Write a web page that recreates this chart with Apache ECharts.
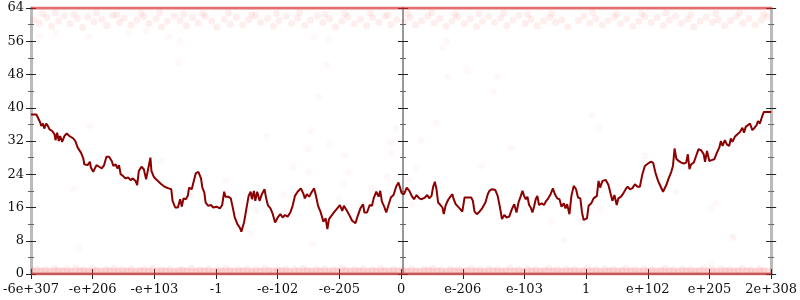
<!DOCTYPE html>
<html><head><meta charset="utf-8">
<script src="https://cdn.jsdelivr.net/npm/echarts@6/dist/echarts.min.js"></script>
<style>html,body{margin:0;padding:0;background:#fff}#c{width:800px;height:300px}</style>
</head><body><div id="c"></div>
<script>
// x positions are in sample units (0 .. 2238), 186.5 units per tick step
var xTickLabels = ['-6e+307','-e+206','-e+103','-1','-e-102','-e-205','0','e-206','e-103','1','e+102','e+205','2e+308'];
var yTicks = [0,8,16,24,32,40,48,56,64];

var lineX = [0,16,21,28,31,36,40,46,51,56,64,71,74,79,84,88,94,101,108,116,121,128,134,141,151,158,161,171,178,181,188,192,198,206,214,221,228,236,244,249,256,261,266,271,278,286,294,301,308,316,321,326,334,341,348,354,361,364,371,378,386,394,404,416,424,428,436,444,451,456,461,468,474,478,486,491,498,506,514,518,524,528,536,544,551,561,571,578,584,588,596,604,611,616,624,631,636,644,651,658,664,668,674,678,684,691,698,706,711,716,724,731,738,746,754,761,768,776,784,791,798,806,816,824,828,834,841,848,856,861,868,876,884,891,896,901,908,916,926,934,941,946,954,961,971,981,988,996,1004,1008,1016,1024,1031,1036,1044,1051,1056,1061,1068,1074,1081,1088,1096,1104,1111,1116,
1121,1128,1136,1144,1151,1158,1166,1174,1181,1191,1198,1204,1211,1216,1221,1226,1231,1238,1244,1248,1254,1261,1268,1274,1278,1284,1291,1298,1304,1311,1321,1331,1336,1341,1348,1356,1364,1374,1381,1386,1394,1404,1411,1418,1424,1431,1438,1446,1454,1461,1468,1474,1481,1486,1491,1496,1501,1506,1511,1516,1521,1526,1531,1536,1544,1551,1558,1564,1571,1578,1584,1591,1598,1604,1611,1616,1621,1628,1634,1641,1648,1654,1661,1666,1671,1681,1686,1694,1701,1711,1716,1721,1728,1738,1746,1754,1758,1764,1771,1776,1784,1791,1798,1804,1811,1818,1826,1834,1841,1848,1856,1866,1874,1881,1888,1896,1904,1911,1916,1921,1928,1936,1941,1946,1951,1958,1966,1974,1981,1986,1991,1996,2004,2011,2018,2026,2034,2038,2044,2051,2058,2066,2074,2081,2086,2091,2098,2104,2111,2116,2121,2128,2136,2144,2151,2156,2161,2166,2174,2181,2188,2194,2198,2204,2211,2216,2238];
var lineY = [38.4,38.4,37.6,36.4,35.6,36.2,35,36.2,35.6,34.8,34.4,33.6,32.2,34,32,33.2,31.8,33.2,33.8,33.2,33.5,32.6,32,30.4,29.2,27.8,26.4,26.2,27,25.6,24.6,24.2,26.2,25.8,25.4,26.2,28.2,28.2,27.2,26,26.4,25.4,26.2,24,23.6,23,23.2,22.6,23,22.4,21.4,24.8,25.8,25.2,22.8,25.2,28,24.8,23.4,22.8,22.2,21.6,21,20.6,20.4,17.6,16,16,18,16.2,18.2,18,18.8,20.8,20.4,22,24.2,24.6,23,20.8,19.6,17.2,16.4,16.6,16,16.2,15.8,16.6,19.8,18.6,18.6,18.2,15.6,13.6,12,11.2,10.2,12.4,15.6,18.8,19.8,18,20,17.6,19.8,17.6,19.2,20.4,18.2,16.6,15.8,14.4,12.4,13.6,14.4,13.6,14.2,13.8,14.8,16.4,18.8,19.8,20.6,19.2,18.2,19.2,18.6,19.6,20.6,19,16.4,14.8,12.6,13.4,10.8,13.2,14,14.8,15.8,16.6,15.2,16.4,15.4,14.4,12.8,12.2,14,15.8,16.8,14.8,14.8,16.6,16.4,18.2,19.8,18.6,20,17.4,16.2,14.8,16.6,18.4,19,21,22,21.6,
19.4,19.2,20.8,20,18.8,18,19,18.2,18,18.4,19,18.2,18.8,21,22.2,20.4,17.2,16.6,16,14.4,16.6,17.8,18.6,19.2,18,16.8,16.2,15.6,15,18.4,18.4,18.4,17.6,15,14.4,15,15.8,17.2,19.2,20,20.4,20.2,18.8,16,13.2,14.2,13.6,13.8,15.6,16.8,14.8,17.2,18.8,20,18.8,18,18.6,16.6,16,14.8,16.2,18,18.8,16.6,17,16.6,17.6,18.2,19.2,20.6,19.2,18.2,18,16.2,17,15.8,16.8,14.4,18.8,21.2,20.4,18.4,18.2,14.8,13,13.4,16.4,17,18.2,18.8,22.4,20.8,22.4,22.6,21.4,18.8,17.6,19,16.6,18.2,18.6,19.4,20.4,21,20.4,20.6,21.6,21,21,23.8,26,26.6,27,26.8,24.4,22.4,21,19.8,19.6,21.4,23,24.6,26,30.2,27.8,27.2,26.8,26.6,26.8,28.8,25.2,26.4,26.8,28.4,30,29.8,28.8,27,29.6,27.2,27.4,27.6,29.2,30.4,32,30.8,32.2,31.2,30.8,32.6,31.8,33,33.6,34.2,35.2,34,35.4,35.8,36.2,34.6,35.2,35.8,36.8,36.2,38,39,39];

var topDotX = [8,25,48,62,83,101,118,140,156,171,190,214,229,247,268,281,302,320,341,356,378,395,412,433,451,470,488,505,527,546,562,584,603,621,640,658,679,694,715,733,750,772,788,806,828,845,866,882,903,921,940,958,977,996,1015,1033,1052,1070,1088,1106,1128,1146,1163,1181,1200,1219,1236,1255,1273,1290,1310,1328,1347,1365,1384,1401,1420,1438,1457,1475,1494,1512,1531,1549,1568,1586,1605,1623,1655,1672,1690,1708,1727,1745,1764,1782,1801,1819,1838,1856,1875,1893,1912,1930,1949,1967,1986,2004,2023,2041,2060,2078,2097,2115,2134,2152,2171,2189,2208,2226,
 35,73,130,198,259,333,389,462,519,597,667,742,812,889,949,1025,1079,1139,1212,1282,1355,1430,1502,1575,1698,1772,1846,1920,1995,2070,2143,2215];
var topDotY = [61.2,60.4,61.8,59.6,60.9,62.1,60.2,61.5,59.3,61.9,60.7,61.3,59.8,62.2,60.5,61.6,59.9,61.1,62.0,60.3,61.4,59.5,60.8,62.1,61.0,59.7,61.7,60.4,62.0,60.9,59.4,61.3,60.1,61.8,59.9,61.2,62.2,60.6,61.5,59.6,61.0,62.0,60.3,61.6,59.8,61.1,62.1,60.5,61.4,59.4,60.9,61.9,60.2,61.3,59.7,61.7,60.6,62.0,60.0,61.2,60.7,61.8,59.9,61.0,62.1,60.4,61.5,59.6,60.9,61.9,60.2,61.4,59.5,60.8,62.0,60.5,61.6,59.8,61.1,62.2,60.3,61.3,59.7,60.9,61.8,60.6,61.2,59.4,61.0,62.1,60.4,61.5,59.9,61.0,61.9,60.2,61.4,59.6,60.8,62.0,60.5,61.7,59.8,61.1,62.1,60.3,61.3,59.5,60.9,61.8,60.6,61.2,59.7,61.0,62.0,60.4,61.5,59.9,61.1,61.9,
 62.6,62.9,62.5,62.8,62.4,62.7,62.9,62.5,62.6,62.8,62.4,62.7,62.9,62.5,62.6,62.8,62.3,62.7,62.9,62.5,62.6,62.8,62.4,62.7,62.9,62.5,62.6,62.8,62.4,62.7,62.9,62.5];

var bottomDotX = [5,18,30,44,57,70,82,96,109,121,135,148,160,173,187,199,212,226,238,251,264,277,290,303,316,329,342,355,368,381,394,407,420,433,446,459,472,485,498,511,524,537,550,563,576,589,602,615,628,641,654,667,680,693,706,719,732,745,758,771,784,797,810,823,836,849,862,875,888,901,914,927,940,953,966,979,992,1005,1018,1031,1044,1057,1070,1083,1096,1109,
 1124,1137,1150,1163,1176,1189,1202,1215,1228,1241,1254,1267,1280,1293,1306,1319,1332,1345,1358,1371,1384,1397,1410,1423,1436,1449,1462,1475,1488,1501,1514,1527,1540,1553,1566,1579,1592,1605,1618,1631,1644,1657,1670,1683,1696,1709,1722,1735,1748,1761,1774,1787,1800,1813,1826,1839,1852,1865,1878,1891,1904,1917,1930,1943,1956,1969,1982,1995,2008,2021,2034,2047,2060,2073,2086,2099,2112,2125,2138,2151,2164,2177,2190,2203,2216,2229];
var bottomDotY = [0.8,1.2,0.6,1.0,0.5,1.3,0.9,0.7,1.1,0.5,1.4,0.8,1.0,0.6,1.2,0.9,0.5,1.1,0.7,1.3,0.6,1.0,0.8,1.2,0.5,0.9,1.1,0.7,1.3,0.6,1.0,0.8,1.2,0.5,0.9,1.1,0.7,1.4,0.6,1.0,0.8,1.2,0.5,1.0,0.7,1.3,0.9,0.6,1.1,0.8,1.2,0.5,1.0,0.7,1.3,0.9,0.6,1.1,0.8,1.2,0.5,1.0,0.7,1.3,0.9,0.6,1.1,0.8,1.2,0.5,1.0,0.7,1.3,0.9,0.6,1.1,0.8,1.2,0.5,1.0,0.7,1.3,0.9,0.6,1.1,0.8,
 1.0,0.6,1.2,0.8,0.5,1.1,0.9,1.3,0.7,1.0,0.5,1.2,0.8,1.1,0.6,0.9,1.3,0.7,1.0,0.5,1.2,0.8,1.1,0.6,0.9,1.4,0.7,1.0,0.5,1.2,0.8,1.1,0.6,0.9,1.3,0.7,1.0,0.5,1.2,0.8,1.1,0.6,0.9,1.3,0.7,1.0,0.5,1.2,0.8,1.1,0.6,0.9,1.3,0.7,1.0,0.5,1.2,0.8,1.1,0.6,0.9,1.3,0.7,1.0,0.5,1.2,0.8,1.1,0.6,0.9,1.3,0.7,1.0,0.5,1.2,0.8,1.1,0.6,0.9,1.3,0.7,1.0,0.5,1.2,0.8];

var sparseX = [177,129,144,393,297,483,588,663,711,681,765,792,840,852,903,945,960,948,1032,1077,1086,1089,1104,930,1224,1179,1164,1143,1152,1362,1452,1695,1716,1857,1950,2055,2070,2124,1572,1611,1662,1722,855,900,894,870,1257,1245,1320,1260,1410,1398,447,75,27,174,294,348,417,450,2121,2058,837,846];
var sparseY = [35.6,20.4,6.2,27.2,23.8,18.8,22.4,9.8,33.2,15.2,19.1,25.8,24.6,7.2,31.2,21.6,24.4,28.6,20.6,23.4,31.6,29.2,35,18,36.4,32.2,25.4,22.6,16.7,26,30.4,38.2,35.2,28.4,19.8,15.8,17,9,12.6,8.2,12.6,15.6,57,56.5,50.3,42.6,56,54.4,49,47.4,47.4,44,50.8,58,57.3,57,58,58.5,57,56,8.7,2.4,30,34.6];

var bandEnds = [0, 2238];
var bottomBandLevel = [0.8, 0.8];

function pairs(xs, ys){ var o=[]; for(var i=0;i<xs.length;i++) o.push([xs[i], ys[i]]); return o; }

var STEP = 186.5, XMAX = 2238;
var font = "'DejaVu Serif', 'Liberation Serif', serif";
function xAx(show, inside){
  return {type:'value', min:0, max:XMAX, interval:STEP, position:'bottom',
    axisLine:{show:show, lineStyle:{color:'#aaa', width:2}},
    axisTick:{show:true, inside:inside, length:5, lineStyle:{color:'#222', width:1}},
    axisLabel:{show:show, margin:9, color:'#111', fontFamily:font, fontSize:13,
      formatter:function(v){ var i=Math.round(v/STEP); return xTickLabels[i]||''; }},
    splitLine:{show:false}};
}
function yAx(pos, offset, inside, showLine, showLabel, lineColor, lineWidth){
  return {type:'value', min:yTicks[0], max:yTicks[yTicks.length-1], interval:8, position:pos, offset:offset,
    axisLine:{show:showLine, onZero:false, lineStyle:{color:lineColor, width:lineWidth}},
    axisTick:{show:true, inside:inside, length:5, lineStyle:{color:'#222', width:1}},
    minorTick:{show:true, splitNumber:2, length:3, lineStyle:{color:'#666', width:1}},
    axisLabel:{show:showLabel, margin:7, color:'#111', fontFamily:font, fontSize:13},
    splitLine:{show:false}, minorSplitLine:{show:false}};
}

var chart = echarts.init(document.getElementById('c'), null, {renderer:'canvas'});
chart.setOption({
  animation:false,
  grid:{left:28, right:26, top:8, bottom:26, containLabel:false},
  xAxis:[xAx(true,false), xAx(false,true)],
  yAxis:[
    yAx('left',0,false,true,true,'#bbb',3),
    yAx('left',0,true,false,false,'#bbb',3),
    yAx('right',0,false,true,false,'#bbb',3),
    yAx('right',0,true,false,false,'#bbb',3),
    yAx('left',-372,false,true,false,'#999',2),
    yAx('left',-372,true,false,false,'#999',2)
  ],
  series:[
    {type:'line', data:pairs(bandEnds,[64,64]), symbol:'none', silent:true, z:1,
     lineStyle:{color:'rgba(215,35,35,0.65)', width:3}},
    {type:'line', data:pairs(bandEnds,bottomBandLevel), symbol:'none', silent:true, z:1,
     lineStyle:{color:'rgba(240,90,90,0.18)', width:6}},
    {type:'line', data:pairs(bandEnds,[0,0]), symbol:'none', silent:true, z:1,
     lineStyle:{color:'rgba(205,40,40,0.6)', width:3}},
    {type:'scatter', data:pairs(topDotX, topDotY), symbol:'circle', symbolSize:7, silent:true, z:1,
     itemStyle:{color:'rgba(240,80,80,0.12)'}},
    {type:'scatter', data:pairs(bottomDotX, bottomDotY), symbol:'circle', symbolSize:7, silent:true, z:1,
     itemStyle:{color:'rgba(240,80,80,0.12)'}},
    {type:'scatter', data:pairs(sparseX, sparseY), symbol:'circle', symbolSize:7, silent:true, z:1,
     itemStyle:{color:'rgba(240,80,80,0.05)'}},
    {type:'line', data:pairs(lineX, lineY), symbol:'none', z:5,
     lineStyle:{color:'#8b0000', width:2}}
  ]
});
</script></body></html>
